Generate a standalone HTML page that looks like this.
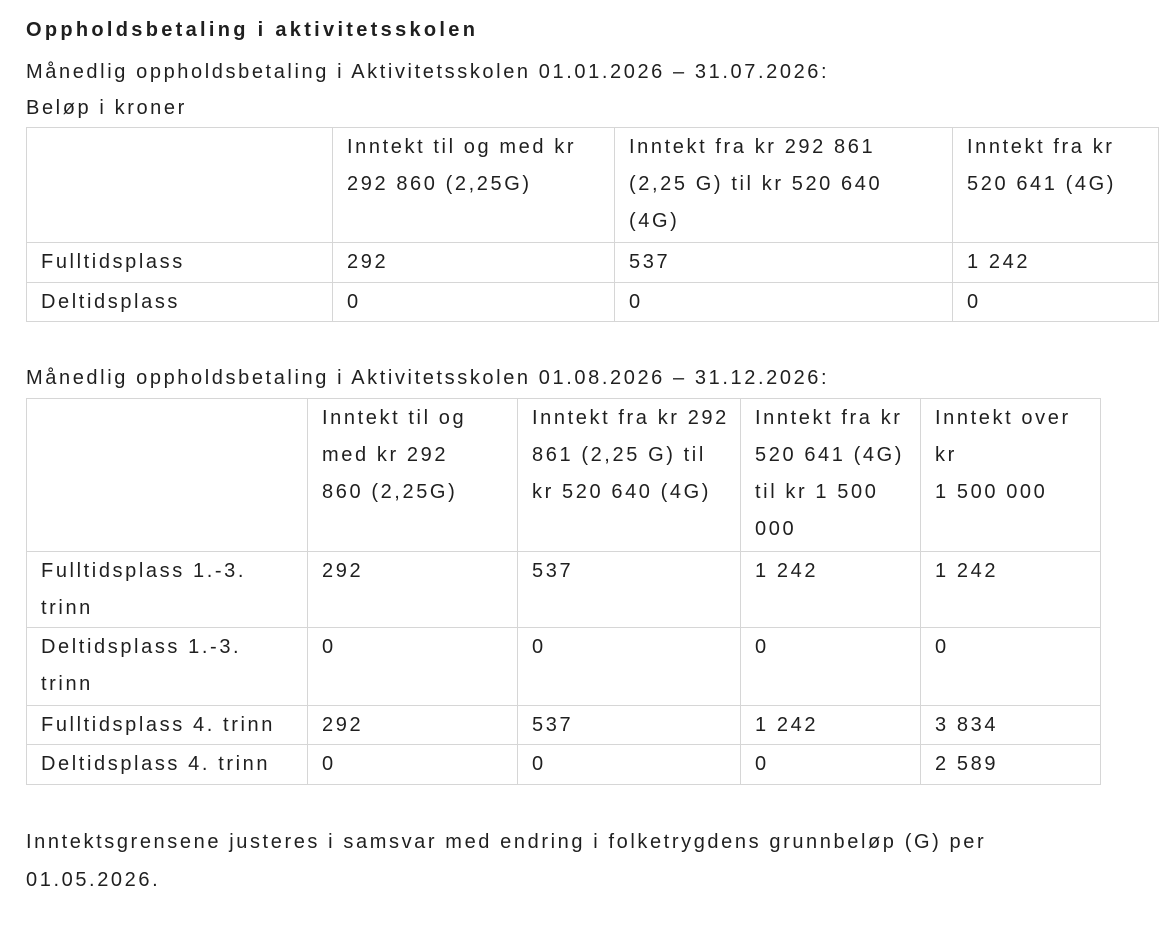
<!DOCTYPE html>
<html><head><meta charset="utf-8"><style>
body{margin:0;background:#fff;color:#1f1f1f;font-family:"Liberation Sans",sans-serif;font-size:20px;letter-spacing:2.6px;}
.t{position:absolute;left:26px;white-space:nowrap;}
table{position:absolute;left:26px;border-collapse:collapse;table-layout:fixed;}
td{border:1.5px solid #d6d6d6;vertical-align:top;padding:1px 0 0 14px;line-height:37px;white-space:nowrap;box-sizing:border-box;overflow:hidden;}
</style></head><body>
<div class="t" style="top:19px;font-weight:bold;letter-spacing:3.3px;">Oppholdsbetaling i aktivitetsskolen</div>
<div class="t" style="top:61px;">Månedlig oppholdsbetaling i Aktivitetsskolen 01.01.2026 – 31.07.2026:</div>
<div class="t" style="top:97px;">Beløp i kroner</div>
<table style="top:127px;width:1132px;">
<colgroup><col style="width:306px"><col style="width:282px"><col style="width:338px"><col style="width:206px"></colgroup>
<tr style="height:115px"><td></td><td>Inntekt til og med kr<br>292 860 (2,25G)</td><td>Inntekt fra kr 292 861<br>(2,25 G) til kr 520 640<br>(4G)</td><td>Inntekt fra kr<br>520 641 (4G)</td></tr>
<tr style="height:40px"><td>Fulltidsplass</td><td>292</td><td>537</td><td>1 242</td></tr>
<tr style="height:39px"><td>Deltidsplass</td><td>0</td><td>0</td><td>0</td></tr>
</table>
<div class="t" style="top:367px;">Månedlig oppholdsbetaling i Aktivitetsskolen 01.08.2026 – 31.12.2026:</div>
<table style="top:398px;width:1074px;">
<colgroup><col style="width:281px"><col style="width:210px"><col style="width:223px"><col style="width:180px"><col style="width:180px"></colgroup>
<tr style="height:153px"><td></td><td>Inntekt til og<br>med kr 292<br>860 (2,25G)</td><td>Inntekt fra kr 292<br>861 (2,25 G) til<br>kr 520 640 (4G)</td><td>Inntekt fra kr<br>520 641 (4G)<br>til kr 1 500<br>000</td><td>Inntekt over<br>kr<br>1 500 000</td></tr>
<tr style="height:76px"><td>Fulltidsplass 1.-3.<br>trinn</td><td>292</td><td>537</td><td>1 242</td><td>1 242</td></tr>
<tr style="height:78px"><td>Deltidsplass 1.-3.<br>trinn</td><td>0</td><td>0</td><td>0</td><td>0</td></tr>
<tr style="height:39px"><td>Fulltidsplass 4. trinn</td><td>292</td><td>537</td><td>1 242</td><td>3 834</td></tr>
<tr style="height:40px"><td>Deltidsplass 4. trinn</td><td>0</td><td>0</td><td>0</td><td>2 589</td></tr>
</table>
<div class="t" style="top:831px;">Inntektsgrensene justeres i samsvar med endring i folketrygdens grunnbeløp (G) per</div>
<div class="t" style="top:869px;">01.05.2026.</div>
</body></html>
